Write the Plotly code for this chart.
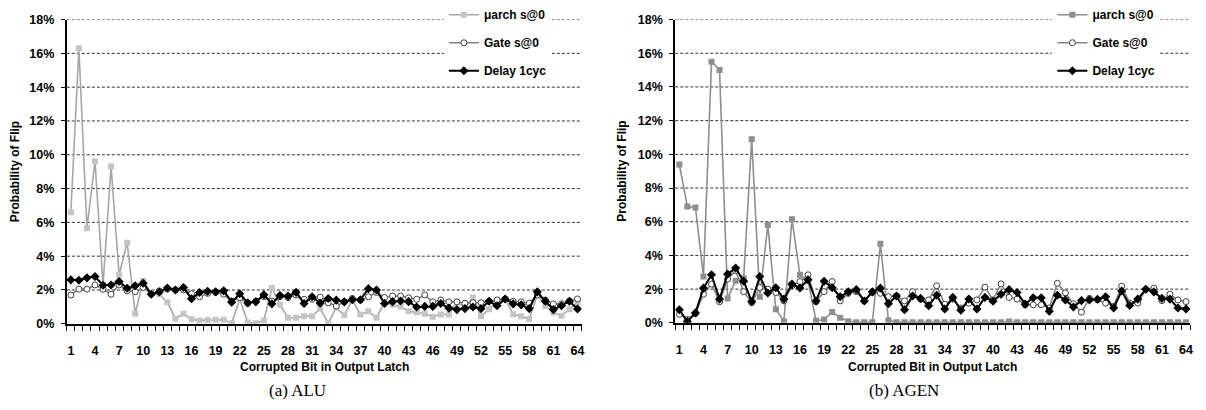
import plotly.graph_objects as go

bits = list(range(1, 65))
x_ticks = list(range(1, 65, 3))
y_ticks = list(range(0, 19, 2))
y_ticktext = [f"{v}%" for v in y_ticks]

alu_uarch = [6.6, 16.3, 5.65, 9.6, 2.3, 9.3, 2.9, 4.8, 0.6, 2.55,
             1.8, 1.75, 1.28, 0.3, 0.6, 0.27, 0.2, 0.22, 0.24, 0.24,
             0.04, 1.45, 0.08, 0.04, 0.2, 2.12, 1.12, 0.36, 0.36, 0.45,
             0.45, 0.9, 0.05, 0.95, 0.5, 1.42, 0.55, 0.74, 0.36, 1.26,
             1.12, 1.03, 0.74, 0.69, 0.6, 0.42, 0.55, 0.55, 1.3, 0.95,
             1.55, 0.44, 0.86, 1.28, 1.47, 0.57, 0.44, 0.29, 1.71, 1.05,
             0.67, 0.48, 0.86, 1.24]
alu_gate = [1.7, 2.05, 2.05, 2.3, 2.05, 1.75, 2.3, 1.95, 1.9, 2.15,
            1.75, 1.95, 2.05, 2.0, 2.0, 1.78, 1.6, 1.8, 1.85, 1.75,
            1.35, 1.55, 1.2, 1.35, 1.6, 1.35, 1.6, 1.55, 1.7, 1.45,
            1.45, 1.58, 1.24, 1.05, 1.3, 1.5, 1.4, 1.6, 1.85, 1.56,
            1.64, 1.64, 1.54, 1.45, 1.71, 1.3, 1.41, 1.3, 1.3, 1.22,
            1.25, 1.25, 1.33, 1.41, 1.47, 1.33, 1.3, 1.22, 1.7, 1.41,
            1.18, 1.18, 1.35, 1.47]
alu_delay = [2.6, 2.58, 2.72, 2.8, 2.28, 2.3, 2.5, 2.1, 2.25, 2.4,
             1.75, 1.88, 2.12, 2.0, 2.15, 1.48, 1.85, 1.92, 1.9, 1.95,
             1.28, 1.78, 1.25, 1.3, 1.72, 1.18, 1.68, 1.64, 1.86, 1.2,
             1.6, 1.22, 1.5, 1.4, 1.3, 1.42, 1.42, 2.08, 2.0, 1.2,
             1.31, 1.35, 1.31, 0.99, 1.03, 1.03, 1.2, 0.93, 0.84, 0.9,
             0.99, 0.9, 1.33, 1.07, 1.47, 1.18, 1.12, 0.9, 1.89, 1.33,
             0.84, 1.07, 1.33, 0.88]

agen_uarch = [9.4, 6.9, 6.85, 2.75, 15.5, 15.0, 1.45, 2.5, 2.65, 10.9,
              1.55, 5.8, 0.8, 0.1, 6.15, 2.85, 2.5, 0.12, 0.2, 0.65,
              0.3, 0.1, 0.03, 0.03, 0.03, 4.7, 0.15, 0.03, 0.03, 0.03,
              0.03, 0.03, 0.03, 0.03, 0.03, 0.03, 0.03, 0.03, 0.03, 0.03,
              0.03, 0.08, 0.03, 0.03, 0.03, 0.03, 0.03, 0.03, 0.03, 0.03,
              0.03, 0.03, 0.03, 0.03, 0.03, 0.03, 0.03, 0.03, 0.03, 0.03,
              0.03, 0.03, 0.03, 0.03]
agen_gate = [0.5, 0.2, 0.55, 1.7, 2.3, 1.25, 2.6, 3.1, 1.85, 1.2,
             2.1, 2.0, 1.8, 1.3, 2.2, 2.45, 2.85, 1.25, 1.85, 2.45,
             1.3, 1.75, 1.85, 1.3, 1.8, 1.75, 1.55, 1.6, 1.3, 1.85,
             1.4, 1.36, 2.2, 1.1, 1.4, 0.88, 1.17, 1.36, 2.12, 1.36,
             2.31, 1.51, 1.41, 1.07, 1.07, 1.07, 0.88, 2.35, 1.78, 1.13,
             0.63, 1.45, 1.36, 1.17, 0.98, 2.18, 1.17, 1.17, 1.99, 2.06,
             1.32, 1.7, 1.36, 1.26]
agen_delay = [0.78, 0.08, 0.59, 2.06, 2.85, 1.41, 2.89, 3.25, 2.47, 1.26,
              2.75, 1.77, 2.08, 1.41, 2.3, 2.07, 2.56, 1.3, 2.47, 2.08,
              1.55, 1.84, 1.97, 1.3, 1.84, 2.06, 1.13, 1.59, 0.78, 1.59,
              1.45, 1.01, 1.64, 0.82, 1.51, 0.75, 1.41, 0.82, 1.51, 1.28,
              1.7, 1.97, 1.8, 1.11, 1.49, 1.49, 0.69, 1.64, 1.36, 0.94,
              1.32, 1.36, 1.4, 1.55, 0.88, 1.89, 1.03, 1.41, 1.99, 1.84,
              1.45, 1.41, 0.88, 0.82]

series_names = ["\u03bcarch s@0", "Gate s@0", "Delay 1cyc"]
x_title = "Corrupted Bit in Output Latch"
y_title = "Probability of Flip"
subtitles = ["(a) ALU", "(b) AGEN"]

SANS = "Liberation Sans"
SERIF = "Liberation Serif"

fig = go.Figure()

def add_panel(xa, ya, legend, uarch, gate, delay, uarch_line, uarch_mk):
    fig.add_trace(go.Scatter(
        x=bits, y=uarch, name=series_names[0], xaxis=xa, yaxis=ya, legend=legend,
        legendgroup=legend + "u", mode="lines+markers",
        line=dict(color=uarch_line, width=1.6),
        marker=dict(symbol="square", size=6, color=uarch_mk, line=dict(width=0))))
    fig.add_trace(go.Scatter(
        x=bits, y=gate, name=series_names[1], xaxis=xa, yaxis=ya, legend=legend,
        legendgroup=legend + "g", mode="lines+markers",
        line=dict(color="#858585", width=1.6),
        marker=dict(symbol="circle", size=6, color="white",
                    line=dict(width=1, color="#404040"))))
    fig.add_trace(go.Scatter(
        x=bits, y=delay, name=series_names[2], xaxis=xa, yaxis=ya, legend=legend,
        legendgroup=legend + "d", mode="lines+markers",
        line=dict(color="black", width=2),
        marker=dict(symbol="diamond", size=7, color="black", line=dict(width=0))))

add_panel("x", "y", "legend", alu_uarch, alu_gate, alu_delay, "#a6a6a6", "#c4c4c4")
add_panel("x2", "y2", "legend2", agen_uarch, agen_gate, agen_delay, "#8e8e8e", "#8e8e8e")

W, H = 1206, 410

def xaxis_cfg(x0, x1, anchor):
    return dict(domain=[x0 / W, x1 / W], anchor=anchor, range=[0.5, 64.5],
                tickmode="array", tickvals=x_ticks, ticktext=[str(v) for v in x_ticks],
                ticks="outside", ticklen=5, tickcolor="rgba(0,0,0,0)",
                ticklabelstandoff=9,
                minor=dict(tick0=0.5, dtick=1, ticks="outside", ticklen=5,
                           tickcolor="black", tickwidth=1, showgrid=False),
                showgrid=False, zeroline=False, showline=True, linecolor="black",
                linewidth=2, tickfont=dict(family=SANS, size=12.5, color="black",
                                          weight="bold"))

def yaxis_cfg(ytop, ybot, anchor):
    return dict(domain=[(H - ybot) / H, (H - ytop) / H], anchor=anchor, range=[0, 18],
                tickmode="array", tickvals=y_ticks, ticktext=y_ticktext,
                ticks="outside", ticklen=4, tickcolor="black", ticklabelstandoff=4,
                showgrid=False, zeroline=False, showline=True, linecolor="black",
                linewidth=2,
                tickfont=dict(family=SANS, size=12.5, color="black", weight="bold"))

legend_cfg = dict(yanchor="top", xanchor="left", bgcolor="white", borderwidth=0,
                  font=dict(family=SANS, size=12, color="black", weight="bold"),
                  tracegroupgap=9, itemwidth=30, entrywidth=95, entrywidthmode="pixels")

fig.update_layout(
    width=W, height=H, margin=dict(l=0, r=0, t=0, b=0),
    paper_bgcolor="white", plot_bgcolor="white", showlegend=True,
    xaxis=xaxis_cfg(67, 583, "y"), yaxis=yaxis_cfg(13, 328, "x"),
    xaxis2=xaxis_cfg(677, 1193, "y2"), yaxis2=yaxis_cfg(13, 327, "x2"),
    legend=dict(x=445 / W, y=1.0 + 7 / H, **legend_cfg),
    legend2=dict(x=1055 / W, y=1.0 + 7 / H, **legend_cfg),
)

# dashed horizontal gridlines at the y tick values
for xr, yr in (("x domain", "y"), ("x2 domain", "y2")):
    for v in y_ticks[1:]:
        fig.add_shape(type="line", xref=xr, yref=yr, x0=0, x1=1, y0=v, y1=v,
                      line=dict(color="#303030", width=1, dash="3px,2px"), layer="below")

def ann(text, xpx, ypx, size, family, bold, angle=0):
    fig.add_annotation(text=text, x=xpx / W, y=(H - ypx) / H, xref="paper", yref="paper",
                       showarrow=False, textangle=angle, xanchor="center", yanchor="middle",
                       font=dict(family=family, size=size, color="black",
                                 weight="bold" if bold else "normal"))

ann(x_title, 325, 373, 12, SANS, True)
ann(x_title, 935, 373, 12, SANS, True)
ann(y_title, 15, 170, 12, SANS, True, -90)
ann(y_title, 624, 170, 12, SANS, True, -90)
ann(subtitles[0], 298, 397, 17, SERIF, False)
ann(subtitles[1], 906, 397, 17, SERIF, False)

fig.write_html("out.html")
